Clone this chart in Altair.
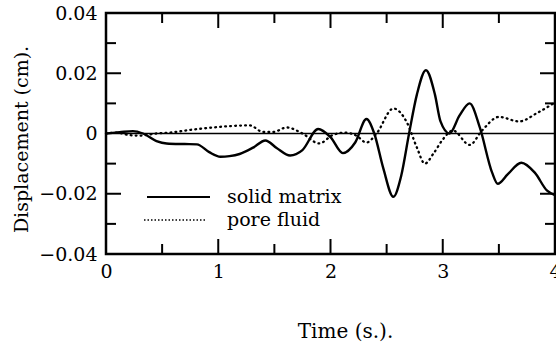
import altair as alt
import pandas as pd

# ---- data ----
solid_t = [0, 0.12, 0.24, 0.33, 0.45, 0.54, 0.70, 0.81, 0.92, 1.02, 1.10, 1.19, 1.31, 1.42, 1.52, 1.64, 1.75,
           1.89, 2.00, 2.11, 2.22, 2.32, 2.39, 2.47, 2.56, 2.63, 2.70, 2.77, 2.85, 2.93, 2.98, 3.06, 3.15,
           3.24, 3.33, 3.44, 3.49, 3.58, 3.70, 3.82, 3.93, 4.00]
solid_y = [0, 0.0004, 0.0008, 0.0, -0.0025, -0.0033, -0.0035, -0.0036, -0.0062, -0.0077, -0.0075, -0.0068,
           -0.0047, -0.0023, -0.0048, -0.0073, -0.0055, 0.0015, -0.0012, -0.0065, -0.0030, 0.0048, 0.0,
           -0.0115, -0.0210, -0.0140, 0.0, 0.0130, 0.0210, 0.0130, 0.0040, 0.0, 0.0060, 0.0100, 0.0020,
           -0.0130, -0.0167, -0.0135, -0.0097, -0.0130, -0.0190, -0.0205]

pore_t = [0, 0.10, 0.20, 0.30, 0.45, 0.57, 0.75, 0.90, 1.08, 1.28, 1.40, 1.49, 1.61, 1.75, 1.90, 2.02,
          2.13, 2.23, 2.32, 2.41, 2.56, 2.68, 2.77, 2.84, 2.92, 3.00, 3.09, 3.24, 3.35, 3.50, 3.68, 3.84, 4.00]
pore_y = [0, 0.0003, -0.0005, -0.0007, 0.0, 0.0003, 0.0012, 0.0018, 0.0024, 0.0027, 0.0005, 0.0005,
          0.0020, 0.0, -0.0033, -0.0005, 0.0003, -0.0007, -0.0030, 0.0, 0.0083, 0.0037, -0.0047, -0.0100,
          -0.0065, -0.0020, 0.0010, -0.0038, 0.0010, 0.0055, 0.0040, 0.0068, 0.0103]

x_labels = [0, 1, 2, 3, 4]
y_labels = [-0.04, -0.02, 0, 0.02, 0.04]
x_major = [1, 2, 3]
x_minor = [0.5, 1.5, 2.5, 3.5]
y_major = [-0.02, 0.02]
y_minor = [-0.03, -0.01, 0.01, 0.03]
legend_names = ["solid matrix", "pore fluid"]

# ---- styling ----
W, H = 449, 241
FONT = "DejaVu Serif"
MAJ, MIN = 15, 10

xs = alt.Scale(domain=[0, 4], nice=False, zero=False)
ys = alt.Scale(domain=[-0.04, 0.04], nice=False, zero=False)

solid_df = pd.DataFrame({"t": solid_t, "d": solid_y})
pore_df = pd.DataFrame({"t": pore_t, "d": pore_y})

x_axis = alt.Axis(values=x_labels, format="d", title="Time (s.).", ticks=False, domain=False, grid=False,
                  labelFont=FONT, labelFontSize=19, labelColor="black", labelPadding=8, labelFlush=False,
                  labelOverlap=False, titleFont=FONT, titleFontSize=20, titleFontWeight="normal",
                  titleColor="black", titleX=239, titleY=83, titleBaseline="alphabetic", titleAlign="center")
y_axis = alt.Axis(values=y_labels, labelExpr="datum.value == 0 ? '0' : format(datum.value, '.2f')",
                  title="Displacement (cm).", ticks=False, domain=False, grid=False,
                  labelFont=FONT, labelFontSize=19, labelColor="black", labelPadding=9, labelOverlap=False,
                  titleFont=FONT, titleFontSize=19, titleFontWeight="normal", titleColor="black",
                  titleX=-79, titleY=126, titleAngle=270, titleBaseline="alphabetic", titleAlign="center")

X = alt.X("t:Q", scale=xs, axis=x_axis, title="Time (s.).")
Y = alt.Y("d:Q", scale=ys, axis=y_axis, title="Displacement (cm).")

solid = alt.Chart(solid_df).mark_line(color="black", strokeWidth=2.4, interpolate="monotone").encode(x=X, y=Y)
pore = alt.Chart(pore_df).mark_line(color="black", strokeWidth=2.3, strokeDash=[0.8, 4.2], strokeCap="round",
                                    interpolate="monotone").encode(x=X, y=Y)

zero = alt.Chart(pd.DataFrame({"d": [0]})).mark_rule(color="black", strokeWidth=1.7).encode(y=Y)


def xticks(vals, length):
    df = pd.DataFrame({"t": vals})
    base = alt.Chart(df).mark_rule(color="black", strokeWidth=2)
    bottom = base.encode(x=X, y=alt.value(H), y2=alt.value(H - length))
    top = base.encode(x=X, y=alt.value(0), y2=alt.value(length))
    return [bottom, top]


def yticks(vals, length):
    df = pd.DataFrame({"d": vals})
    base = alt.Chart(df).mark_rule(color="black", strokeWidth=2)
    left = base.encode(y=Y, x=alt.value(0), x2=alt.value(length))
    right = base.encode(y=Y, x=alt.value(W - length), x2=alt.value(W))
    return [left, right]


ticks = xticks(x_major, MAJ) + xticks(x_minor, MIN) + yticks(y_major, MAJ) + yticks(y_minor, MIN)

one = pd.DataFrame({"a": [0]})
leg_solid = alt.Chart(one).mark_rule(color="black", strokeWidth=2).encode(
    x=alt.value(41), x2=alt.value(104), y=alt.value(184))
leg_pore = alt.Chart(one).mark_rule(color="black", strokeWidth=1.6, strokeDash=[1.5, 2]).encode(
    x=alt.value(38), x2=alt.value(101), y=alt.value(207))
leg_t1 = alt.Chart(one).mark_text(font=FONT, fontSize=19, align="left", baseline="middle", color="black").encode(
    x=alt.value(121), y=alt.value(184), text=alt.value(legend_names[0]))
leg_t2 = alt.Chart(one).mark_text(font=FONT, fontSize=19, align="left", baseline="middle", color="black").encode(
    x=alt.value(121), y=alt.value(207), text=alt.value(legend_names[1]))

chart = alt.layer(solid, pore, zero, *ticks, leg_solid, leg_pore, leg_t1, leg_t2).properties(
    width=W, height=H,
    autosize=alt.AutoSizeParams(type="none"),
    padding={"left": 106, "top": 13, "right": 1, "bottom": 89},
    background="white",
).configure_view(stroke="black", strokeWidth=2.5)

chart.save("out.html", embed_options={"renderer": "svg", "actions": False})
